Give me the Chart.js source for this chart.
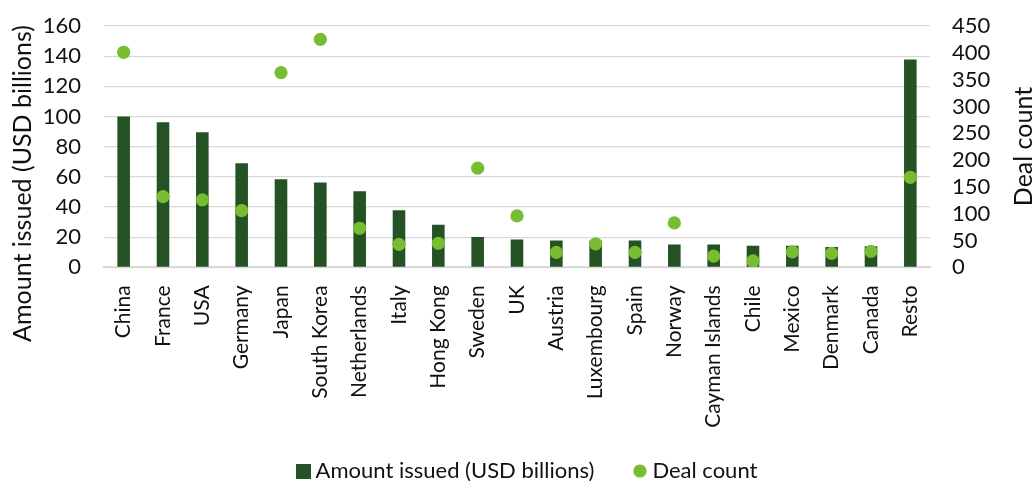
<!DOCTYPE html>
<html>
<head>
<meta charset="utf-8">
<script src="https://cdn.jsdelivr.net/npm/chart.js@4"></script>
<style>
  html, body { margin: 0; padding: 0; background: #ffffff; }
  #wrap { width: 1035px; height: 481px; position: relative; }
</style>
</head>
<body>
<div id="wrap"><canvas id="c"></canvas></div>
<script>
const categories = ["China","France","USA","Germany","Japan","South Korea","Netherlands","Italy","Hong Kong","Sweden","UK","Austria","Luxembourg","Spain","Norway","Cayman Islands","Chile","Mexico","Denmark","Canada","Resto"];
const amountIssued = [100, 96.2, 89.6, 69.1, 58.5, 56.2, 50.4, 37.8, 28.2, 20.2, 18.5, 17.8, 17.6, 17.8, 15.1, 15.1, 14.4, 14.4, 13.6, 14.0, 137.8];
const dealCount = [401, 132, 126, 106, 363, 425, 73, 43, 45, 185, 96, 28, 44, 28, 83, 21, 12, 29, 26, 30, 168];
const seriesNames = ["Amount issued (USD billions)", "Deal count"];
const leftTitle = "Amount issued (USD billions)";
const rightTitle = "Deal count";

const BAR_COLOR = "#255224";
const DOT_COLOR = "#77BC31";
const GRID_COLOR = "#d9d9d9";
const TEXT_COLOR = "#111111";
const FONT = "Lato";

function squareIcon() {
  const c = document.createElement('canvas'); c.width = 15; c.height = 15;
  const x = c.getContext('2d'); x.fillStyle = BAR_COLOR; x.fillRect(0, 0, 15, 15);
  return c;
}
function circleIcon() {
  const c = document.createElement('canvas'); c.width = 14; c.height = 14;
  const x = c.getContext('2d'); x.fillStyle = DOT_COLOR; x.beginPath(); x.arc(7, 7, 6.6, 0, Math.PI * 2); x.fill();
  return c;
}
const icons = [squareIcon(), circleIcon()];

const titlesPlugin = {
  id: 'titles',
  afterLayout(chart) {
    const lg = chart.legend;
    if (lg) {
      const h = lg.bottom - lg.top;
      lg.left += 12; lg.right += 12;
      lg.top = 416; lg.bottom = 416 + h;
    }
  },
  afterDraw(chart) {
    const ctx = chart.ctx;
    ctx.save();
    ctx.fillStyle = TEXT_COLOR;
    ctx.font = "25px " + FONT;
    ctx.textAlign = "center";
    ctx.textBaseline = "middle";
    ctx.translate(23, 183.5); ctx.rotate(-Math.PI / 2); ctx.fillText(leftTitle, 0, 0);
    ctx.restore();
    ctx.save();
    ctx.fillStyle = TEXT_COLOR;
    ctx.font = "25px " + FONT;
    ctx.textAlign = "center";
    ctx.textBaseline = "middle";
    ctx.translate(1024, 146.5); ctx.rotate(-Math.PI / 2); ctx.fillText(rightTitle, 0, 0);
    ctx.restore();
  }
};

new Chart(document.getElementById('c'), {
  data: {
    labels: categories,
    datasets: [
      {
        type: 'line', label: seriesNames[1], data: dealCount, yAxisID: 'y1',
        showLine: false, pointRadius: 6.6, pointHoverRadius: 6.6,
        pointBackgroundColor: DOT_COLOR, pointBorderWidth: 0, borderColor: DOT_COLOR, backgroundColor: DOT_COLOR,
        order: 0
      },
      {
        type: 'bar', label: seriesNames[0], data: amountIssued, yAxisID: 'y',
        backgroundColor: BAR_COLOR, borderWidth: 0,
        barPercentage: 0.32, categoryPercentage: 1.0,
        order: 1
      }
    ]
  },
  options: {
    responsive: true, maintainAspectRatio: false, animation: false,
    layout: { padding: { top: 26, left: 0, right: 0, bottom: -27.4 } },
    plugins: {
      tooltip: { enabled: false },
      legend: {
        position: 'bottom',
        labels: {
          usePointStyle: true, boxWidth: 3, padding: 44, color: TEXT_COLOR,
          font: { family: FONT, size: 22 },
          generateLabels(chart) {
            return [
              { text: seriesNames[0], pointStyle: icons[0], fillStyle: BAR_COLOR, strokeStyle: BAR_COLOR, lineWidth: 0, datasetIndex: 1, fontColor: TEXT_COLOR },
              { text: seriesNames[1], pointStyle: icons[1], fillStyle: DOT_COLOR, strokeStyle: DOT_COLOR, lineWidth: 0, datasetIndex: 0, fontColor: TEXT_COLOR }
            ];
          }
        }
      }
    },
    scales: {
      x: {
        grid: { display: false, drawTicks: false },
        border: { display: true, color: GRID_COLOR, width: 2 },
        ticks: { autoSkip: false, maxRotation: 90, minRotation: 90, padding: 18, color: TEXT_COLOR, font: { family: FONT, size: 21 } },
        afterFit(s) { s.height = 165; }
      },
      y: {
        position: 'left', min: 0, max: 160,
        ticks: { stepSize: 20, padding: 23, autoSkip: false, color: TEXT_COLOR, font: { family: FONT, size: 22 } },
        grid: { color: GRID_COLOR, lineWidth: 1.3, drawTicks: false },
        border: { display: false },
        afterFit(s) { s.width = 104; s.paddingTop = 0; s.paddingBottom = 0; }
      },
      y1: {
        position: 'right', min: 0, max: 450,
        ticks: { stepSize: 50, padding: 22, autoSkip: false, color: TEXT_COLOR, font: { family: FONT, size: 22 } },
        grid: { display: false, drawTicks: false },
        border: { display: false },
        afterFit(s) { s.width = 105; s.paddingTop = 0; s.paddingBottom = 0; }
      }
    }
  },
  plugins: [titlesPlugin]
});
</script>
</body>
</html>
